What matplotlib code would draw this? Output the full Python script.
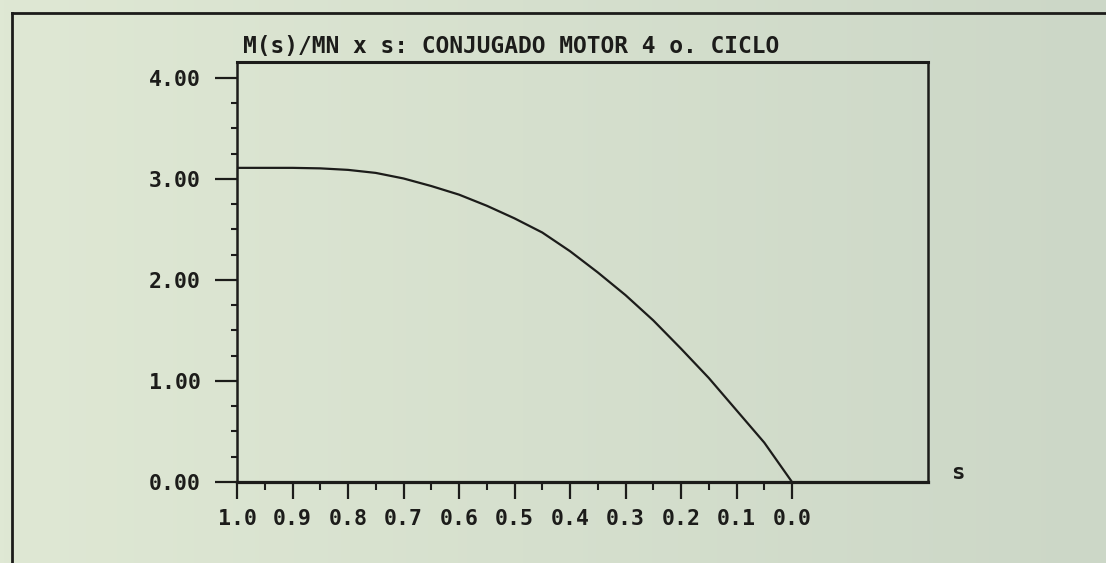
import numpy as np
import matplotlib
matplotlib.use("Agg")
import matplotlib.pyplot as plt
from matplotlib.ticker import FixedLocator, FormatStrFormatter
from matplotlib.lines import Line2D

# ---- data ----
s_values = [1.00, 0.95, 0.90, 0.85, 0.80, 0.75, 0.70, 0.65, 0.60, 0.55, 0.50,
            0.45, 0.40, 0.35, 0.30, 0.25, 0.20, 0.15, 0.10, 0.05, 0.00]
m_ratio = [3.11, 3.11, 3.11, 3.105, 3.09, 3.06, 3.005, 2.93, 2.845, 2.735, 2.61,
           2.47, 2.285, 2.075, 1.85, 1.60, 1.32, 1.03, 0.71, 0.39, 0.00]
x_ticks = [1.0, 0.9, 0.8, 0.7, 0.6, 0.5, 0.4, 0.3, 0.2, 0.1, 0.0]
x_minor_ticks = [0.95, 0.85, 0.75, 0.65, 0.55, 0.45, 0.35, 0.25, 0.15, 0.05]
y_ticks = [0.0, 1.0, 2.0, 3.0, 4.0]
y_minor_ticks = [0.25, 0.5, 0.75, 1.25, 1.5, 1.75, 2.25, 2.5, 2.75,
                 3.25, 3.5, 3.75]
title_text = "M(s)/MN x s: CONJUGADO MOTOR 4 o. CICLO"
x_label_text = "s"

W, H = 1106, 563
ink = "#1c1c1a"
font = "DejaVu Sans Mono"

fig = plt.figure(figsize=(W / 100, H / 100), dpi=100)

# paper background (slight left-to-right tint change)
bg = fig.add_axes([0, 0, 1, 1], zorder=0)
left_c = np.array([223, 232, 212]) / 255
right_c = np.array([204, 215, 199]) / 255
t = np.linspace(0, 1, 256)[None, :, None]
img = left_c * (1 - t) + right_c * t
img = np.repeat(img, 2, axis=0)
bg.imshow(img, aspect="auto", extent=[0, 1, 0, 1])
bg.set_xlim(0, 1)
bg.set_ylim(0, 1)
bg.axis("off")

# outer printed frame
fig.add_artist(Line2D([12 / W, 1.0], [1 - 13 / H, 1 - 13 / H], color=ink, lw=2.0))
fig.add_artist(Line2D([12 / W, 12 / W], [0.0, 1 - 13 / H], color=ink, lw=2.0))

# main plot
x0, x1, y0, y1 = 237, 928, 62, 482
ax = fig.add_axes([x0 / W, 1 - y1 / H, (x1 - x0) / W, (y1 - y0) / H], zorder=1)
ax.set_facecolor("none")
ax.plot(s_values, m_ratio, color=ink, lw=1.6, solid_joinstyle="round")

ax.set_xlim(1.0, -0.245)
ax.set_ylim(0.0, 4.158)

ax.xaxis.set_major_locator(FixedLocator(x_ticks))
ax.xaxis.set_minor_locator(FixedLocator(x_minor_ticks))
ax.xaxis.set_major_formatter(FormatStrFormatter("%.1f"))
ax.yaxis.set_major_locator(FixedLocator(y_ticks))
ax.yaxis.set_minor_locator(FixedLocator(y_minor_ticks))
ax.yaxis.set_major_formatter(FormatStrFormatter("%.2f"))

ax.tick_params(axis="y", which="major", direction="out", length=15.8, width=1.6,
               color=ink, pad=10, labelsize=15.5, labelcolor=ink)
ax.tick_params(axis="y", which="minor", direction="out", length=4.5, width=1.5, color=ink)
ax.tick_params(axis="x", which="major", direction="out", length=12.5, width=1.6,
               color=ink, pad=7, labelsize=15.5, labelcolor=ink)
ax.tick_params(axis="x", which="minor", direction="out", length=5.5, width=1.5, color=ink)

for lab in ax.get_xticklabels() + ax.get_yticklabels():
    lab.set_fontfamily(font)
    lab.set_fontweight("bold")

for name, sp in ax.spines.items():
    sp.set_color(ink)
    sp.set_linewidth(1.8)
ax.spines["bottom"].set_linewidth(2.3)
ax.spines["top"].set_linewidth(2.2)

fig.text(243 / W, 1 - 47 / H, title_text, ha="left", va="center",
         fontsize=16.5, family=font, fontweight="bold", color=ink)
fig.text(958 / W, 1 - 473 / H, x_label_text, ha="center", va="center",
         fontsize=16, family=font, fontweight="bold", color=ink)

fig.savefig("out.png", dpi=100)
